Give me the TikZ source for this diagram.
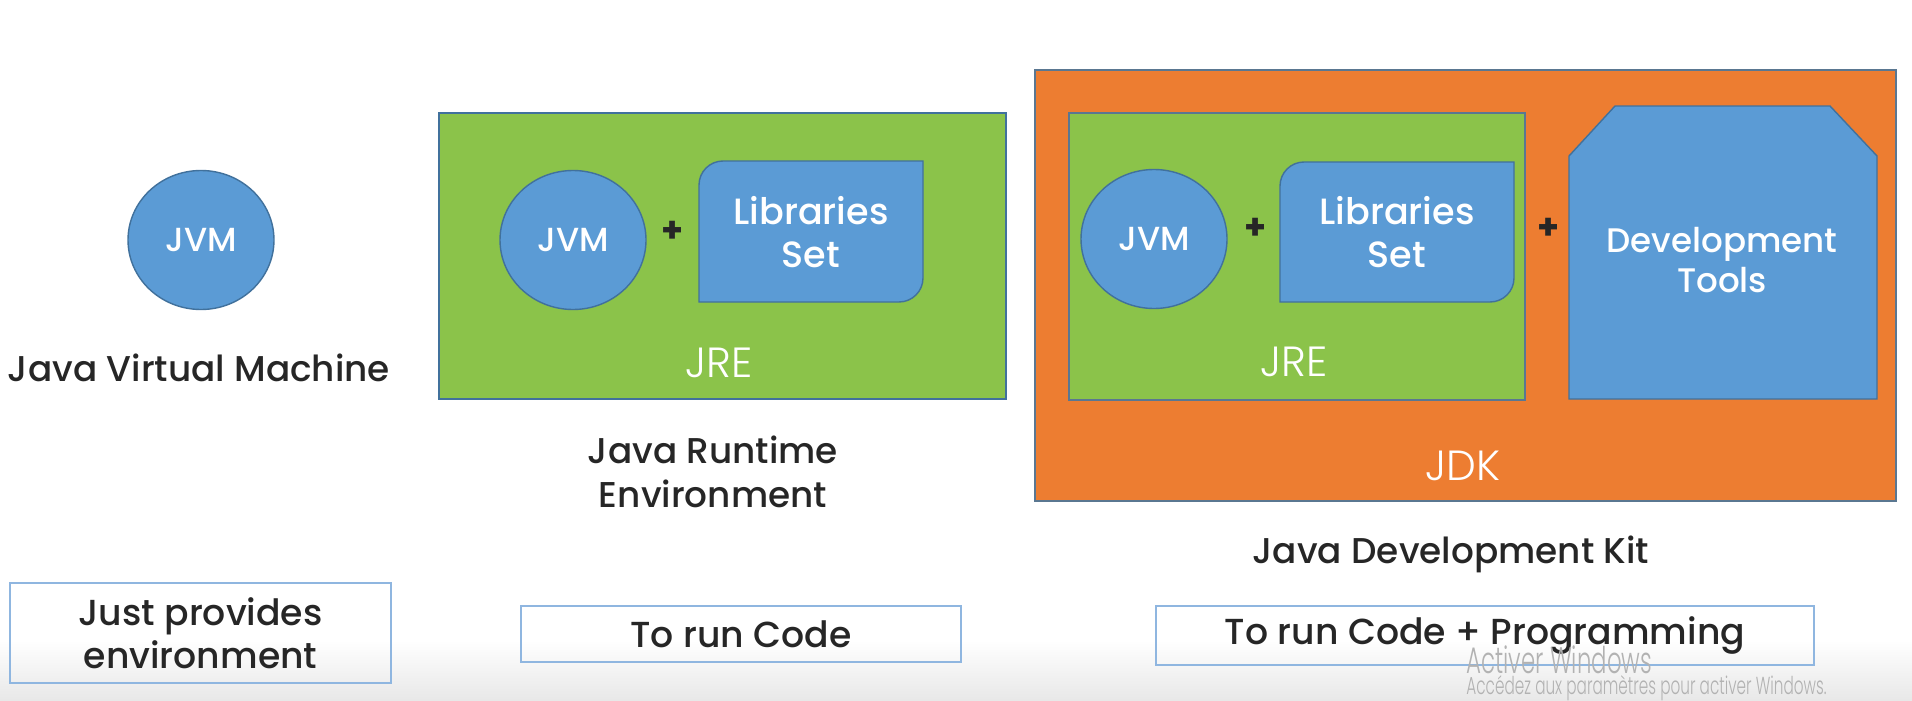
\documentclass[tikz,border=0pt]{standalone}
\usepackage{fontspec}
\setmainfont{Poppins}
\newfontfamily\jmed{Poppins Medium}
\newfontfamily\jlight{Poppins Light}
\usepackage{tikz}
\usetikzlibrary{shapes}
\usetikzlibrary{positioning}
\usepackage{xcolor}
\definecolor{jblue}{HTML}{5B9BD5}
\definecolor{jgreen}{HTML}{8BC34A}
\definecolor{jorange}{HTML}{ED7D31}
\definecolor{jedge}{HTML}{41719C}
\definecolor{jframe}{HTML}{8FB6E0}
\definecolor{jink}{HTML}{262626}

\begin{document}
\begin{tikzpicture}[x=.1mm,y=.1mm,
  vm/.style={ellipse,fill=jblue,draw=jedge,line width=.4pt,minimum width=14.6mm,minimum height=13.9mm,
    text=white,font=\jmed\fontsize{9.5}{11}\selectfont},
  part/.style={fill=jblue,draw=jedge,line width=.4pt},
  parttext/.style={text=white,align=center,font=\jmed\fontsize{10.4}{12.4}\selectfont},
  envbox/.style={draw=jedge,line width=.4pt,inner sep=0pt,outer sep=0pt},
  envname/.style={text=white,font=\jlight\fontsize{12}{14}\selectfont},
  plus/.style={text=jink,font=\bfseries\fontsize{10}{12}\selectfont},
  caption/.style={text=jink,align=center,font=\jmed\fontsize{10.2}{12.6}\selectfont},
  usebox/.style={draw=jframe,line width=.6pt,inner sep=0pt,text=jink,align=center,
    font=\jmed\fontsize{10.3}{12.3}\selectfont},
  winmark/.style={anchor=west,inner sep=0pt,text=black!30,xscale=.62,transform shape}]
\useasboundingbox (0,0) rectangle (1912,700);
\shade[top color=white,bottom color=black!9] (0,0) rectangle (1912,60);

\node[vm] (jvmA) at (201,460) {JVM};
\node[caption] (jvmname) at (199,332) {Java Virtual Machine};
\node[usebox,minimum width=38.1mm,minimum height=10mm] (useA) at (200.5,67) {Just provides\\environment};

\node[envbox,fill=jgreen,minimum width=56.7mm,minimum height=28.6mm] (jreA) at (722.5,444) {};
\node[vm] (jvmB) at (573,460) {JVM};
\node[plus] (plusA) at (673,468) {+};
\draw[part] (699,398) -- (699,515) arc[start angle=180,end angle=90,radius=2.4mm] -- (923,539)
  -- (923,422) arc[start angle=0,end angle=-90,radius=2.4mm] -- cycle;
\node[parttext] (libA) at (811,468) {Libraries\\Set};
\node[envname] (jreAname) at (719,337) {JRE};
\node[caption] (jrename) at (713,228) {Java Runtime\\Environment};
\node[usebox,minimum width=44mm,minimum height=5.6mm] (useB) at (741,66) {To run Code};

\node[envbox,fill=jorange,draw=jedge!60!gray,minimum width=86.1mm,minimum height=43.1mm] (jdk) at (1465.5,414.5) {};
\node[envbox,fill=jgreen,draw=jedge!60!gray,minimum width=45.6mm,minimum height=28.7mm] (jreB) at (1297,443.5) {};
\node[vm] (jvmC) at (1154,461) {JVM};
\node[plus] (plusB) at (1256,471) {+};
\draw[part] (1280,398) -- (1280,514) arc[start angle=180,end angle=90,radius=2.4mm] -- (1514,538)
  -- (1514,422) arc[start angle=0,end angle=-90,radius=2.4mm] -- cycle;
\node[parttext] (libB) at (1397,468) {Libraries\\Set};
\node[envname] (jreBname) at (1294,338) {JRE};
\node[plus] (plusC) at (1549,471) {+};
\draw[part] (1569,301) -- (1569,544) -- (1615,594) -- (1830,594) -- (1877,544) -- (1877,301) -- cycle;
\node[parttext,font=\jmed\fontsize{9.7}{11.6}\selectfont] (dev) at (1722,440) {Development\\Tools};
\node[envname] (jdkname) at (1463,234) {JDK};
\node[caption] (jdkfull) at (1451,146) {Java Development Kit};
\node[usebox,minimum width=65.8mm,minimum height=5.9mm] (useC) at (1485,64.5) {To run Code + Programming};

\node[winmark,font=\jlight\fontsize{10.5}{12}\selectfont] (win) at (1466,40) {Activer Windows};
\node[winmark,font=\jlight\fontsize{7}{8}\selectfont] (winsub) at (1466,12) {Accédez aux paramètres pour activer Windows.};
\end{tikzpicture}
\end{document}
